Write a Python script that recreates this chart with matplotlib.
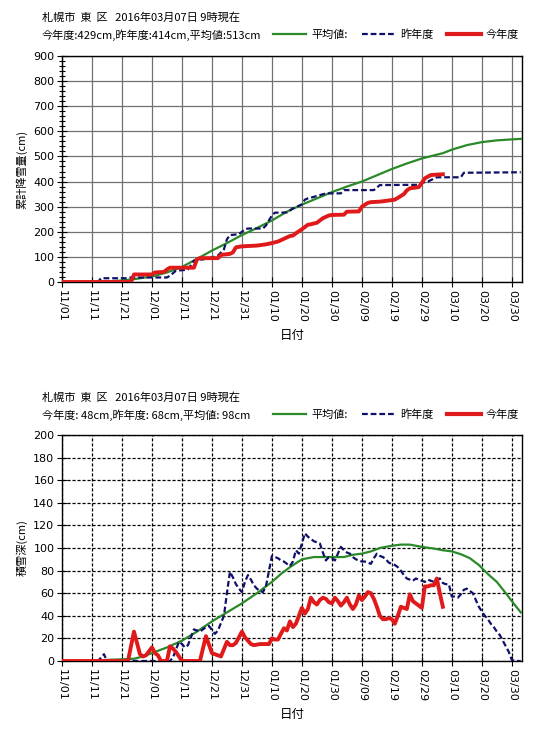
import matplotlib
matplotlib.use("Agg")
import matplotlib.pyplot as plt
from matplotlib.lines import Line2D
from matplotlib.ticker import MultipleLocator, FixedLocator
import numpy as np

plt.rcParams['font.family'] = ['Noto Sans CJK JP', 'DejaVu Sans']

# ---------------- data (day index from 11/01) ----------------
tick_days = [0, 10, 20, 30, 40, 50, 60, 70, 80, 90, 100, 110, 120, 130, 140, 150]
tick_labels = ["11/01", "11/11", "11/21", "12/01", "12/11", "12/21", "12/31", "01/10",
               "01/20", "01/30", "02/09", "02/19", "02/29", "03/10", "03/20", "03/30"]

title_line = "札幌市  東  区   2016年03月07日 9時現在"
top_summary = "今年度:429cm,昨年度:414cm,平均値:513cm"
bot_summary = "今年度: 48cm,昨年度: 68cm,平均値: 98cm"
legend_labels = ["平均値:", "昨年度", "今年度"]

# cumulative snowfall (cm)
cum_avg_day = [11, 15, 20, 25, 30, 35, 40, 45, 50, 55, 60, 65, 70, 75, 80, 85, 90, 95, 100,
               105, 110, 115, 120, 125, 127, 130, 135, 140, 145, 150, 153]
cum_avg_val = [0, 2, 6, 13, 22, 38, 60, 92, 125, 155, 187, 215, 245, 280, 308, 333, 358, 380, 400,
               425, 450, 472, 492, 507, 513, 527, 545, 557, 564, 568, 570]

cum_last_day = [0, 12, 13, 22, 23, 35, 36, 38, 41, 42, 44, 47, 50, 52, 54, 55, 56, 59, 61, 62,
                67, 68, 70, 71, 75, 76, 77, 80, 81, 82, 84, 88, 93, 94, 104, 106, 119, 120,
                122, 125, 133, 134, 153]
cum_last_val = [0, 0, 15, 15, 18, 18, 25, 45, 48, 50, 85, 90, 98, 105, 130, 170, 187, 190, 210, 213,
                213, 225, 265, 276, 277, 285, 293, 309, 328, 333, 339, 353, 353, 366, 366, 386, 387, 395,
                400, 417, 417, 435, 437]

cum_now_day = [0, 23, 24, 30, 31, 34, 35, 36, 44, 45, 46, 52, 53, 56, 57, 58, 60, 65, 68, 70,
               72, 74, 76, 77, 78, 80, 82, 83, 85, 86, 87, 89, 90, 94, 95, 99, 100, 102, 103,
               106, 108, 111, 112, 114, 115, 116, 119, 120, 121, 123, 127]
cum_now_val = [0, 0, 30, 30, 38, 40, 50, 57, 57, 90, 95, 95, 108, 112, 118, 138, 142, 145, 150, 155,
               161, 172, 183, 185, 194, 210, 228, 230, 236, 245, 254, 265, 267, 268, 280, 281, 300, 315, 318,
               320, 323, 328, 335, 350, 365, 373, 378, 395, 413, 426, 429]

# snow depth (cm)
dep_avg_day = [11, 15, 20, 24, 27, 30, 35, 40, 45, 50, 55, 60, 65, 70, 73, 76, 80, 84, 90, 94, 97,
               100, 103, 106, 110, 113, 116, 120, 124, 127, 130, 133, 136, 139, 142, 145, 148, 150, 153]
dep_avg_val = [0, 1, 1.5, 2, 4, 7, 12, 18, 26, 35, 43, 51, 60, 70, 77, 83, 90, 92, 92, 92, 94,
               95, 97, 100, 102, 103, 103, 101, 99.5, 98, 97, 94.5, 91, 85, 77, 70, 60, 53, 43]

dep_last_day = [0, 12, 14, 15, 36, 37, 39, 40, 41, 42, 44, 45, 46, 47, 48, 49, 51, 52, 54, 55, 56, 57,
                58, 59, 60, 61, 62, 63, 64, 65, 66, 67, 68, 70, 71, 72, 73, 74, 75, 76, 77, 78, 79,
                81, 82, 83, 84, 85, 86, 87, 88, 89, 90, 91, 92, 93, 94, 95, 96, 97, 98, 99, 100,
                101, 102, 103, 104, 105, 106, 107, 108, 109, 110, 111, 112, 113, 114, 115, 116, 117,
                118, 119, 120, 121, 122, 123, 124, 125, 126, 127, 128, 129, 130, 131, 132, 133, 134,
                135, 136, 137, 138, 139, 140, 141, 142, 143, 144, 145, 146, 147, 148, 149, 150, 151, 153]
dep_last_val = [0, 0, 6, 0, 0, 3, 17, 15, 12, 14, 28, 27, 26, 28, 30, 31, 24, 27, 40, 60, 79, 74,
                68, 64, 61, 70, 76, 72, 67, 64, 62, 61, 66, 93, 92, 91, 89, 88, 86, 84, 88, 98, 95,
                113, 110, 108, 106, 105, 104, 96, 89, 92, 91, 89, 95, 101, 98, 96, 95, 92, 90, 89, 88,
                88, 87, 86, 91, 95, 93, 92, 90, 87, 86, 85, 83, 80, 76, 73, 72, 71,
                73, 72, 71, 70, 72, 71, 70, 72, 73, 69, 68, 68, 57, 57, 56, 59, 63,
                64, 62, 60, 54, 48, 44, 40, 37, 33, 30, 26, 23, 18, 13, 8, 1, 0, 0]

dep_now_day = [0, 22, 24, 26, 27, 28, 30, 31, 32, 33, 35, 36, 37, 38, 40, 46, 48, 50, 51, 53, 55, 56,
               57, 58, 60, 61, 62, 63, 64, 66, 68, 69, 70, 71, 72, 74, 75, 76, 77, 78, 80, 81, 82,
               83, 84, 85, 86, 87, 88, 89, 90, 91, 92, 93, 94, 95, 96, 97, 98, 99, 100, 101, 102,
               103, 104, 105, 106, 107, 108, 109, 110, 111, 112, 113, 114, 115, 116, 117, 118, 119,
               120, 121, 122, 123, 124, 125, 126, 127]
dep_now_val = [0, 0, 26, 6, 4, 5, 12, 7, 5, 0, 0, 13, 11, 8, 0, 0, 22, 7, 6, 4, 17, 14,
               14, 16, 26, 21, 18, 15, 14, 15, 15, 15, 20, 19, 19, 29, 27, 35, 30, 33, 47, 42, 46,
               56, 52, 50, 54, 56, 55, 52, 51, 56, 53, 49, 52, 56, 50, 46, 50, 58, 54, 57, 61,
               60, 55, 48, 40, 37, 37, 38, 37, 33, 40, 48, 47, 46, 59, 53, 51, 49,
               47, 66, 66, 67, 67, 73, 60, 48]

# ---------------- styles ----------------
C_AVG = "#2a8a2a"
C_LAST = "#10106a"
C_NOW = "#e01a1a"
DASH = (0, (2.6, 1.3))

fig = plt.figure(figsize=(5.39, 7.33), dpi=100)

W, H = 539.0, 733.0
left = 62 / W
width = 460 / W
height = 226 / H
ax1 = fig.add_axes([left, 1 - 282 / H, width, height])
ax2 = fig.add_axes([left, 1 - 661 / H, width, height])

FS = 8


def style_axis(ax, ymax, ystep, grid_style, minor):
    ax.set_xlim(0, 153.4)
    ax.set_ylim(0, ymax)
    ax.xaxis.set_major_locator(FixedLocator(tick_days))
    ax.set_xticklabels(tick_labels, rotation=270, fontsize=FS, family='DejaVu Sans')
    ax.yaxis.set_major_locator(MultipleLocator(ystep))
    if minor:
        ax.yaxis.set_minor_locator(MultipleLocator(ystep / 5))
        ax.tick_params(axis='y', which='minor', direction='inout', length=5, width=0.8)
    for lab in ax.get_yticklabels():
        lab.set_fontsize(FS)
        lab.set_family('DejaVu Sans')
    ax.tick_params(axis='y', which='major', direction='inout', length=7, width=0.8, pad=2)
    ax.tick_params(axis='x', which='major', direction='inout', length=7, width=0.8, pad=2)
    if grid_style == 'solid':
        ax.grid(True, which='major', color='#707070', linewidth=0.9, linestyle='-')
    else:
        ax.grid(True, which='major', color='black', linewidth=0.9, linestyle=(0, (2.5, 1.5)))
    ax.set_axisbelow(True)
    for s in ax.spines.values():
        s.set_linewidth(1.0)
        s.set_color('black')
    ax.set_xlabel("日付", fontsize=9, labelpad=5)


def draw_header(y1, y2, summary):
    fig.text(42 / W, 1 - y1 / H, title_line, fontsize=FS, va='center', ha='left')
    fig.text(42 / W, 1 - y2 / H, summary, fontsize=FS, va='center', ha='left')
    handles = [Line2D([], [], color=C_AVG, lw=1.6),
               Line2D([], [], color=C_LAST, lw=1.6, linestyle=DASH),
               Line2D([], [], color=C_NOW, lw=3.0)]
    fig.legend(handles, legend_labels, loc='center right',
               bbox_to_anchor=(519 / W, 1 - y2 / H), bbox_transform=fig.transFigure,
               ncol=3, frameon=False, fontsize=FS, handlelength=3.0, handletextpad=0.45,
               columnspacing=1.25, borderpad=0, borderaxespad=0)


# top chart
style_axis(ax1, 900, 100, 'solid', True)
ax1.plot(cum_avg_day, cum_avg_val, color=C_AVG, lw=1.6, zorder=3)
ax1.plot(cum_last_day, cum_last_val, color=C_LAST, lw=1.6, linestyle=DASH, zorder=4)
ax1.plot(cum_now_day, cum_now_val, color=C_NOW, lw=2.8, zorder=5)
ax1.set_ylabel("累計降雪量(cm)", fontsize=FS, labelpad=4)
draw_header(18, 35, top_summary)

# bottom chart
style_axis(ax2, 200, 20, 'dashed', False)
ax2.plot(dep_avg_day, dep_avg_val, color=C_AVG, lw=1.6, zorder=3)
ax2.plot(dep_last_day, dep_last_val, color=C_LAST, lw=1.6, linestyle=DASH, zorder=4)
ax2.plot(dep_now_day, dep_now_val, color=C_NOW, lw=2.8, zorder=5)
ax2.set_ylabel("積雪深(cm)", fontsize=FS, labelpad=4)
draw_header(398, 415, bot_summary)

fig.savefig("out.png", dpi=100)
